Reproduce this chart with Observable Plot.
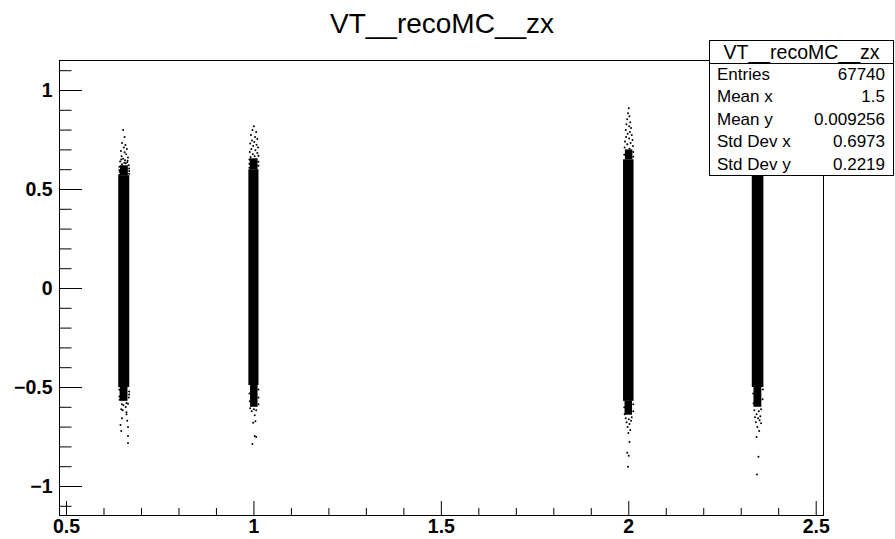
<!DOCTYPE html>
<html><head><meta charset="utf-8">
<script src="https://cdn.jsdelivr.net/npm/d3@7"></script>
<script src="https://cdn.jsdelivr.net/npm/@observablehq/plot@0.6"></script>
<style>
body{margin:0;background:#fff;}
#wrap{position:relative;width:895px;height:539px;overflow:hidden;}
#over{position:absolute;left:0;top:0;pointer-events:none;}
</style></head>
<body><div id="wrap"></div>
<script>
// ---- data ----
const titleText = "VT__recoMC__zx";
const statLabels = ["Entries", "Mean x", "Mean y", "Std Dev x", "Std Dev y"];
const statValues = ["67740", "1.5", "0.009256", "0.6973", "0.2219"];

const xDomain = [0.4813, 2.5195];
const yDomain = [-1.1465, 1.1515];
const xMajor = [0.5, 1, 1.5, 2, 2.5];
const yMajor = [-1, -0.5, 0, 0.5, 1];
const xMinor = [0.6,0.7,0.8,0.9,1.1,1.2,1.3,1.4,1.6,1.7,1.8,1.9,2.1,2.2,2.3,2.4];
const yMinor = [-1.1,-0.9,-0.8,-0.7,-0.6,-0.4,-0.3,-0.2,-0.1,0.1,0.2,0.3,0.4,0.6,0.7,0.8,0.9,1.1];

// band centres (x) and half width of the dense columns
const bandX = [0.654, 1.0, 2.0, 2.345];
const bandHalf = [0.0147, 0.0135, 0.0140, 0.0155];
// fully dense part of each band
const coreLow  = [-0.50, -0.49, -0.57, -0.50];
const coreHigh = [0.57, 0.60, 0.65, 0.66];
// thinner ragged shoulders [band, dxLeft, dxRight, yLow, yHigh]
const shoulders = [
  [0, -0.010, 0.011, 0.57, 0.62], [0, -0.011, 0.010, -0.57, -0.50],
  [1, -0.010, 0.011, 0.60, 0.655], [1, -0.009, 0.011, -0.60, -0.49],
  [2, -0.009, 0.011, 0.65, 0.70],  [2, -0.010, 0.010, -0.64, -0.57],
  [3, -0.011, 0.010, -0.60, -0.50], [3, -0.011, 0.011, 0.66, 0.72]
];
// sparse tail points per band: [dx, y]
const tail0 = [[-0.003,0.80],[0.001,0.765],[-0.006,0.735],[0.003,0.725],[-0.001,0.712],[0.007,0.705],[-0.009,0.695],[0.001,0.688],[0.005,0.678],[-0.007,0.668],[0.010,0.662],[-0.003,0.655],[0.002,0.648],[-0.011,0.642],[0.008,0.637],[0.004,0.632],[-0.006,0.627],[0.012,0.623],[-0.013,0.615],[0.000,0.635],[0.013,0.606],[-0.013,0.598],[0.013,0.594],[-0.012,0.588],[0.013,0.58],[-0.013,0.574],[0.009,0.645],[-0.008,0.652],
  [-0.013,-0.512],[0.013,-0.52],[-0.013,-0.545],[0.012,-0.55],[0.013,-0.535],[-0.012,-0.562],[0.006,-0.578],[-0.006,-0.585],[0.010,-0.582],[-0.002,-0.59],[0.004,-0.598],[-0.008,-0.61],[0.006,-0.625],[-0.004,-0.615],[0.006,-0.635],[-0.006,-0.655],[0.008,-0.668],[-0.010,-0.69],[0.010,-0.70],[-0.008,-0.72],[0.010,-0.745],[0.010,-0.78]];
const tail1 = [[0.0,0.82],[-0.004,0.80],[0.006,0.79],[-0.008,0.775],[0.003,0.765],[0.009,0.755],[-0.005,0.748],[0.001,0.74],[-0.010,0.732],[0.007,0.726],[-0.002,0.72],[0.011,0.712],[-0.007,0.705],[0.004,0.698],[-0.011,0.69],[0.009,0.684],[-0.003,0.678],[0.012,0.671],[-0.009,0.664],[0.002,0.668],[-0.012,0.652],[0.012,0.64],[-0.012,0.63],[0.012,0.62],[-0.012,0.61],
  [0.012,-0.51],[-0.012,-0.53],[0.012,-0.55],[-0.011,-0.57],[0.012,-0.585],[-0.010,-0.605],[0.0,-0.61],[0.006,-0.615],[-0.006,-0.62],[0.002,-0.64],[0.004,-0.67],[-0.002,-0.678],[0.002,-0.745],[0.006,-0.75],[-0.004,-0.785]];
const tail2 = [[0.000,0.91],[-0.002,0.885],[0.002,0.87],[-0.004,0.855],[0.004,0.84],[-0.006,0.83],[0.001,0.82],[0.006,0.81],[-0.008,0.80],[0.003,0.79],[-0.003,0.782],[0.008,0.775],[-0.007,0.765],[0.001,0.758],[0.010,0.75],[-0.010,0.742],[0.005,0.735],[-0.004,0.728],[0.011,0.72],[-0.011,0.712],[0.002,0.706],[0.012,0.69],[-0.012,0.675],[0.012,0.665],
  [0.012,-0.585],[-0.012,-0.60],[0.012,-0.62],[-0.011,-0.635],[0.008,-0.65],[-0.008,-0.655],[0.0,-0.66],[0.006,-0.668],[-0.006,-0.675],[0.002,-0.685],[-0.003,-0.70],[0.004,-0.715],[-0.001,-0.73],[0.002,-0.775],[-0.004,-0.83],[0.0,-0.845],[-0.002,-0.90]];
const tail3 = [[0.013,-0.51],[-0.013,-0.53],[0.012,-0.56],[-0.012,-0.58],[0.008,-0.61],[-0.010,-0.615],[0.002,-0.62],[-0.004,-0.635],[0.006,-0.645],[-0.008,-0.65],[0.0,-0.655],[0.004,-0.665],[-0.006,-0.675],[0.008,-0.68],[-0.002,-0.70],[0.003,-0.72],[-0.004,-0.75],[0.001,-0.85],[-0.003,-0.94],
  [0.004,0.74],[-0.006,0.78],[0.002,0.82]];

// ---- build ----
const W = 895, H = 539, mL = 59, mR = 72, mT = 60, mB = 24;
const kx = (W - mL - mR) / (xDomain[1] - xDomain[0]);
const ky = (H - mT - mB) / (yDomain[1] - yDomain[0]);

const cores = bandX.map((x, i) => ({x1: x - bandHalf[i], x2: x + bandHalf[i], y1: coreLow[i], y2: coreHigh[i]}));
const shoulderRects = shoulders.map(([b, a, c, lo, hi]) => ({x1: bandX[b] + a, x2: bandX[b] + c, y1: lo, y2: hi}));
const points = [tail0, tail1, tail2, tail3].flatMap((t, b) => t.map(([dx, y]) => ({x: bandX[b] + dx, y})));
const fmt = d => (d < 0 ? "\u2212" : "") + String(Math.abs(d));

const chart = Plot.plot({
  width: W, height: H,
  marginLeft: mL, marginRight: mR, marginTop: mT, marginBottom: mB,
  x: {domain: xDomain, axis: null},
  y: {domain: yDomain, axis: null},
  style: {fontFamily: "'Liberation Sans', Arial, sans-serif", fontSize: "19.5px", color: "#000", background: "#fff"},
  marks: [
    Plot.rect(cores, {x1: "x1", x2: "x2", y1: "y1", y2: "y2", fill: "#000"}),
    Plot.rect(shoulderRects, {x1: "x1", x2: "x2", y1: "y1", y2: "y2", fill: "#000"}),
    Plot.dot(points, {x: "x", y: "y", r: 1, fill: "#000", stroke: null}),
    Plot.ruleY(yMajor, {x1: xDomain[0], x2: xDomain[0] + 23 / kx, stroke: "#000"}),
    Plot.ruleY(yMinor, {x1: xDomain[0], x2: xDomain[0] + 12.5 / kx, stroke: "#000"}),
    Plot.ruleX(xMajor, {y1: yDomain[0], y2: yDomain[0] + 14 / ky, stroke: "#000"}),
    Plot.ruleX(xMinor, {y1: yDomain[0], y2: yDomain[0] + 7 / ky, stroke: "#000"}),
    Plot.axisX({ticks: xMajor, tickSize: 0, tickPadding: 4, tickFormat: fmt, label: null, fontWeight: "bold"}),
    Plot.axisY({ticks: yMajor, tickSize: 0, tickPadding: 7, tickFormat: fmt, label: null, fontWeight: "bold"}),
    Plot.frame({stroke: "#000"})
  ]
});
const wrap = document.getElementById("wrap");
wrap.appendChild(chart);

// title + statistics box overlay
const over = d3.select(wrap).append("svg").attr("id", "over").attr("width", W).attr("height", H)
  .style("font-family", "'Liberation Sans', Arial, sans-serif");
over.append("text").attr("x", 442).attr("y", 33).attr("text-anchor", "middle")
  .style("font-size", "28px").text(titleText);
const bx = 709.5, by = 40.5, bw = 184, bh = 135;
over.append("rect").attr("x", bx).attr("y", by).attr("width", bw).attr("height", bh)
  .attr("fill", "#fff").attr("stroke", "#000");
over.append("line").attr("x1", bx).attr("x2", bx + bw).attr("y1", 63.5).attr("y2", 63.5).attr("stroke", "#000");
over.append("text").attr("x", bx + bw / 2).attr("y", 58.5).attr("text-anchor", "middle")
  .style("font-size", "19.5px").text(titleText);
statLabels.forEach((lab, i) => {
  const yb = 80 + i * 22.4;
  over.append("text").attr("x", 717).attr("y", yb).style("font-size", "17px").text(lab);
  over.append("text").attr("x", 885).attr("y", yb).attr("text-anchor", "end").style("font-size", "17px").text(statValues[i]);
});
</script></body></html>
